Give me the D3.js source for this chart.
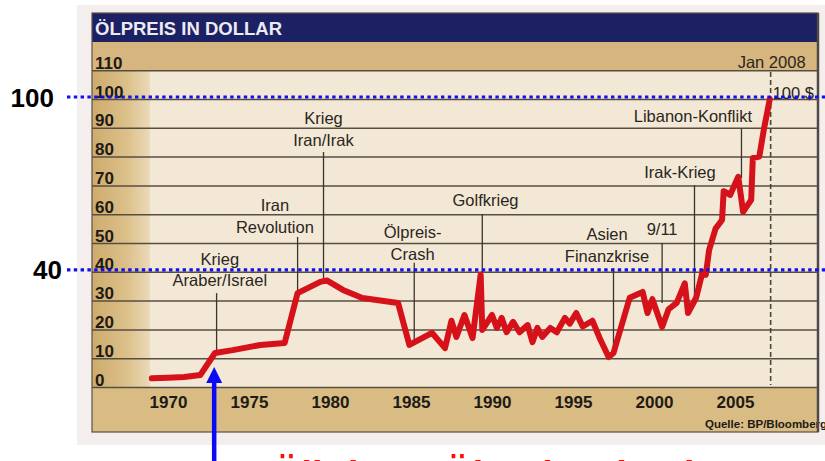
<!DOCTYPE html>
<html><head><meta charset="utf-8">
<script src="https://cdn.jsdelivr.net/npm/d3@7"></script>
<style>html,body{margin:0;padding:0;background:#fff;overflow:hidden}</style>
</head><body>
<svg id="c" width="825" height="461"></svg>
<script>
// ---- data ----
const title = "ÖLPREIS IN DOLLAR";
const source = "Quelle: BP/Bloomberg";
const caption = "Ölkrise – Ölpreisschock";
const yTicks = [0,10,20,30,40,50,60,70,80,90,100,110];
const xTicks = [1970,1975,1980,1985,1990,1995,2000,2005];
const years = [1969.0,1970.0,1971.0,1972.0,1972.9,1974.0,1975.7,1977.2,1978.0,1979.4,1979.8,1980.8,1982.0,1984.2,1984.9,
  1986.3,1987.1,1987.5,1987.8,1988.3,1988.8,1989.3,1989.4,1990.0,1990.3,1990.6,1990.9,1991.3,1991.7,1992.2,1992.5,1992.8,
  1993.1,1993.6,1994.0,1994.5,1994.8,1995.2,1995.6,1996.2,1996.7,1997.2,1997.5,1998.5,1999.3,1999.6,1999.9,2000.5,2000.9,
  2001.4,2001.9,2002.1,2002.6,2003.0,2003.2,2003.4,2003.8,2004.2,2004.3,2004.7,2005.2,2005.5,2006.0,2006.1,2006.5,2006.8,2007.15];
const prices = [3.0,3.2,3.5,4.2,11.8,12.8,14.6,15.3,32.6,36.5,37.0,33.7,30.9,29.2,14.6,
  18.8,13.5,23.0,17.4,25.0,17.0,39.0,19.8,25.0,20.5,24.0,19.0,22.6,19.0,21.5,15.6,20.5,
  17.4,20.5,19.0,24.0,22.0,25.7,21.0,23.0,16.3,10.4,11.8,31.0,33.0,25.7,30.5,20.8,27.0,
  29.2,36.0,25.7,31.0,40.0,39.0,47.5,55.0,58.0,68.0,66.7,73.0,60.8,65.0,79.5,80.0,90.0,100.0];
// event annotations
const eventLabels = [["Krieg","Araber/Israel"],["Iran","Revolution"],["Krieg","Iran/Irak"],["Ölpreis-","Crash"],
  ["Golfkrieg"],["Asien","Finanzkrise"],["9/11"],["Irak-Krieg"],["Libanon-Konflikt"]];
const eventYears      = [1973.0,1978.0,1979.6,1985.2,1989.4,1997.5,2000.5,2002.5,2005.4];
const eventLabelYears = [1973.2,1976.6,1979.6,1985.1,1989.6,1997.1,2000.5,2001.6,2002.4];
const eventTextValues = [42.4,61.1,91.3,51.7,62.8,51.0,52.8,72.6,92.0];
const eventLineTop    = [32.6,52.1,81.6,43.1,60.1,41.3,50.0,70.1,89.9];
const eventLineBottom = [12.8,32.6,37.2,15.3,39.9,12.2,29.2,30.2,72.6];
const markerLabel = "Jan 2008", markerYear = 2007.2, markerValueLabel = "100 $";
const guideValues = [100, 40];
const arrowYear = 1972.85;

// ---- scales ----
const svg = d3.select("#c");
const x = d3.scaleLinear().domain([1970, 2005]).range([168, 735]);
const y = d3.scaleLinear().domain([0, 110]).range([387, 70.2]);
const L = 92, R = 818, T = 13, B = 432;

// ---- background / paper ----
svg.append("rect").attr("x",77).attr("y",5).attr("width",748).attr("height",440).attr("fill","#f4eeed");
const defs = svg.append("defs");
const g1 = defs.append("linearGradient").attr("id","lc").attr("x1","0").attr("x2","1");
g1.append("stop").attr("offset","0").attr("stop-color","#cdab6c");
g1.append("stop").attr("offset","0.6").attr("stop-color","#dcc08a");
g1.append("stop").attr("offset","1").attr("stop-color","#eadab8");
svg.append("rect").attr("x",L).attr("y",T).attr("width",R-L).attr("height",B-T).attr("fill","#f3e8d5");
svg.append("rect").attr("x",L).attr("y",42).attr("width",R-L).attr("height",y(110)-42).attr("fill","#d6b67e");
svg.append("rect").attr("x",L).attr("y",y(110)).attr("width",150-L).attr("height",y(0)-y(110)).attr("fill","url(#lc)");
svg.append("rect").attr("x",L).attr("y",y(0)).attr("width",R-L).attr("height",B-y(0)).attr("fill","#d8bc84");
svg.append("rect").attr("x",L).attr("y",T).attr("width",R-L).attr("height",42-T).attr("fill","#1c2163");
svg.append("text").attr("x",95).attr("y",35).text(title)
  .attr("fill","#eceaf2").attr("font-family","'Liberation Sans', Arial, sans-serif").attr("font-weight","bold")
  .attr("font-size",19).attr("textLength",187).attr("lengthAdjust","spacingAndGlyphs");

// ---- y axis (grid + labels) ----
const yAxis = svg.append("g").attr("transform",`translate(${L},0)`)
  .call(d3.axisRight(y).tickValues(yTicks).tickSize(R-L).tickFormat(d3.format("d")));
yAxis.select(".domain").remove();
yAxis.selectAll("line").attr("stroke","#574e42").attr("stroke-width",1.5);
yAxis.selectAll("text").attr("x",3).attr("dy",-2).attr("text-anchor","start")
  .attr("fill","#1e1a14").attr("font-family","'Liberation Sans Narrow','Liberation Sans',Arial,sans-serif")
  .attr("font-weight","bold").attr("font-size",17);

// ---- x axis ----
const xAxis = svg.append("g").attr("transform",`translate(0,${y(0)})`)
  .call(d3.axisBottom(x).tickValues(xTicks).tickSize(0).tickFormat(d3.format("d")));
xAxis.select(".domain").remove();
xAxis.selectAll("text").attr("y",9).attr("dy","0.71em")
  .attr("fill","#1e1a14").attr("font-family","'Liberation Sans Narrow','Liberation Sans',Arial,sans-serif")
  .attr("font-weight","bold").attr("font-size",17);
svg.append("text").attr("x",705).attr("y",428).text(source)
  .attr("fill","#1e1a14").attr("font-family","'Liberation Sans Narrow','Liberation Sans',Arial,sans-serif")
  .attr("font-weight","bold").attr("font-size",11.5);

// frame
svg.append("rect").attr("x",L).attr("y",T).attr("width",R-L).attr("height",B-T)
  .attr("fill","none").attr("stroke","#5a5146").attr("stroke-width",1.2);
svg.append("line").attr("x1",R).attr("x2",R).attr("y1",T).attr("y2",B).attr("stroke","#4d4a47").attr("stroke-width",2.5);

// ---- annotations ----
const ann = svg.append("g").attr("font-family","'Liberation Sans', Arial, sans-serif").attr("font-size",16.5).attr("fill","#2a2622");
eventLabels.forEach((lines,i) => {
  ann.append("line").attr("x1",x(eventYears[i])).attr("x2",x(eventYears[i]))
    .attr("y1",y(eventLineTop[i])).attr("y2",y(eventLineBottom[i]))
    .attr("stroke","#3a342e").attr("stroke-width",1.3);
  lines.forEach((t,j) => {
    ann.append("text").attr("x",x(eventLabelYears[i])).attr("y",y(eventTextValues[i]) + j*21.5)
      .attr("text-anchor","middle").text(t);
  });
});
// Jan 2008 marker
svg.append("line").attr("x1",x(markerYear)).attr("x2",x(markerYear)).attr("y1",y(109.4)).attr("y2",y(0.7))
  .attr("stroke","#4a443c").attr("stroke-width",1.6).attr("stroke-dasharray","5,3");
ann.append("text").attr("x",x(markerYear)+1).attr("y",y(110.8)).attr("text-anchor","middle").text(markerLabel);
ann.append("text").attr("x",x(markerYear)+2).attr("y",y(100)).attr("text-anchor","start").text(markerValueLabel);

// ---- price line ----
const pts = years.map((yr,i) => [yr, prices[i]]);
svg.append("path").datum(pts)
  .attr("d", d3.line().x(d => x(d[0])).y(d => y(d[1])))
  .attr("fill","none").attr("stroke","#d5121a").attr("stroke-width",6)
  .attr("stroke-linejoin","round").attr("stroke-linecap","round");

// ---- overlay (blue guides, labels, arrow, caption) ----
const ov = svg.append("g").attr("transform","translate(0,-2)");
guideValues.forEach(v => {
  ov.append("line").attr("x1",67).attr("x2",825).attr("y1",y(v)).attr("y2",y(v))
    .attr("stroke","#1010f0").attr("stroke-width",3.2).attr("stroke-dasharray","3.4,3.4");
});
const lab = svg.append("g").attr("font-family","'Liberation Sans', Arial, sans-serif").attr("font-weight","bold")
  .attr("font-size",26).attr("fill","#000").attr("text-anchor","end");
lab.append("text").attr("x",54).attr("y",y(100)+7.5).text("100");
lab.append("text").attr("x",62).attr("y",y(40)+7).text("40");

const ax = x(arrowYear);
svg.append("line").attr("x1",ax).attr("x2",ax).attr("y1",461).attr("y2",382).attr("stroke","#0a0af5").attr("stroke-width",4.5);
svg.append("path").attr("d",`M${ax-8},383 L${ax+8},383 L${ax},367 Z`).attr("fill","#0a0af5");

svg.append("text").attr("x",272).attr("y",488).text(caption)
  .attr("fill","#ff0a0a").attr("font-family","'Liberation Sans', Arial, sans-serif").attr("font-weight","bold")
  .attr("font-size",38);
</script>
</body></html>
